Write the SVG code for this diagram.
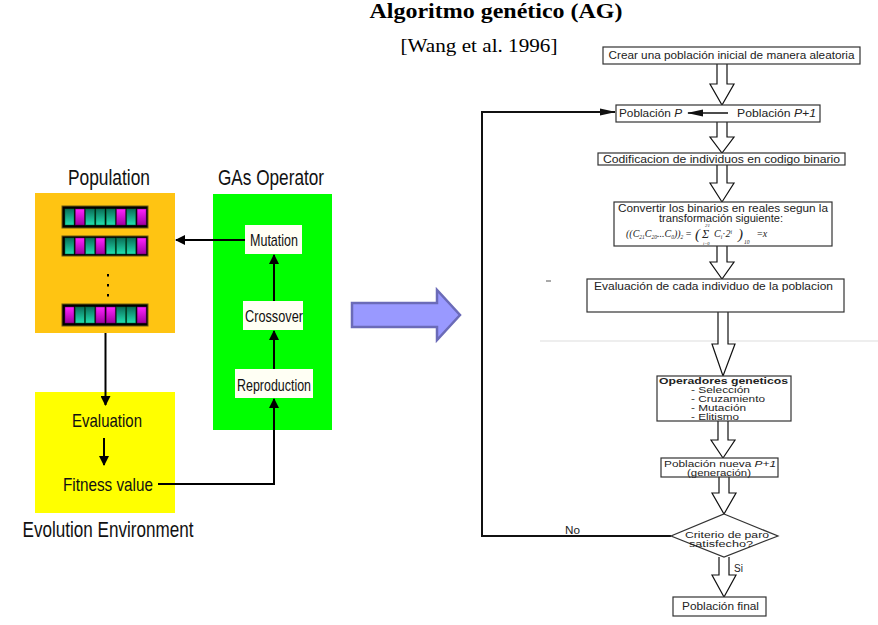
<svg xmlns="http://www.w3.org/2000/svg" width="878" height="625" viewBox="0 0 878 625">
<defs>
<marker id="ah" markerWidth="10" markerHeight="10" refX="9" refY="5" orient="auto" markerUnits="userSpaceOnUse">
<path d="M0,0 L10,5 L0,10 Z" fill="#000"/>
</marker>
<marker id="ah2" markerWidth="16" markerHeight="10" refX="15" refY="5" orient="auto" markerUnits="userSpaceOnUse">
<path d="M0,1.5 L16,5 L0,8.5 Z" fill="#111"/>
</marker>
<linearGradient id="gT" x1="0" y1="0" x2="0" y2="1">
<stop offset="0" stop-color="#0a6e58"/><stop offset="1" stop-color="#22e0b0"/>
</linearGradient>
<linearGradient id="gM" x1="0" y1="0" x2="0" y2="1">
<stop offset="0" stop-color="#ff22ff"/><stop offset="1" stop-color="#a000a0"/>
</linearGradient>
<style>
.nar{font-family:"Liberation Sans",Arial,sans-serif;fill:#111}
.fc{font-family:"Liberation Sans",Arial,sans-serif;fill:#222;font-size:10px}
.sm{font-family:"Liberation Sans",Arial,sans-serif;fill:#222;font-size:8.5px}
.fm{font-family:"Liberation Serif",serif;fill:#222;font-style:italic}
.box{fill:#fff;stroke:#333;stroke-width:1.2}
.op{fill:#fffff4;stroke:none}
.ln{stroke:#000;stroke-width:2;fill:none}
.hol{fill:#fff;stroke:#111;stroke-width:1.2}
.bar{fill:#000;stroke:#6a5a10;stroke-width:1}
.t{fill:url(#gT);stroke:#063;stroke-width:0.5}
.m{fill:url(#gM);stroke:#606;stroke-width:0.5}
</style>
</defs>
<rect width="878" height="625" fill="#fff"/>

<g id="title">
<text x="496" y="18" text-anchor="middle" font-family="Liberation Serif,serif" font-weight="bold" font-size="20" textLength="253" lengthAdjust="spacingAndGlyphs">Algoritmo genético (AG)</text>
<text x="479" y="52" text-anchor="middle" font-family="Liberation Serif,serif" font-size="18" textLength="157" lengthAdjust="spacingAndGlyphs">[Wang et al. 1996]</text>
</g>

<!-- Left diagram -->
<g id="population">
<rect x="35" y="193" width="140" height="140" fill="#ffc412"/>
<text class="nar" x="109" y="185" text-anchor="middle" font-size="22" textLength="82" lengthAdjust="spacingAndGlyphs">Population</text>
<rect class="bar" x="62" y="206" width="86" height="22"/>
<rect class="t" x="65" y="209" width="9" height="16"/><rect class="m" x="75.3" y="209" width="9" height="16"/><rect class="t" x="85.6" y="209" width="9" height="16"/><rect class="t" x="95.9" y="209" width="9" height="16"/><rect class="t" x="106.2" y="209" width="9" height="16"/><rect class="m" x="116.5" y="209" width="9" height="16"/><rect class="t" x="126.8" y="209" width="9" height="16"/><rect class="m" x="137.1" y="209" width="9" height="16"/>
<rect class="bar" x="62" y="236" width="86" height="20"/>
<rect class="t" x="65" y="238" width="9" height="16"/><rect class="m" x="75.3" y="238" width="9" height="16"/><rect class="t" x="85.6" y="238" width="9" height="16"/><rect class="m" x="95.9" y="238" width="9" height="16"/><rect class="t" x="106.2" y="238" width="9" height="16"/><rect class="t" x="116.5" y="238" width="9" height="16"/><rect class="t" x="126.8" y="238" width="9" height="16"/><rect class="m" x="137.1" y="238" width="9" height="16"/>
<rect x="107" y="274" width="2" height="2.5" fill="#000"/><rect x="107" y="284" width="2" height="2.5" fill="#000"/><rect x="107" y="294" width="2" height="2.5" fill="#000"/>
<rect class="bar" x="62" y="304" width="86" height="22"/>
<rect class="m" x="65" y="307" width="9" height="16"/><rect class="t" x="75.3" y="307" width="9" height="16"/><rect class="t" x="85.6" y="307" width="9" height="16"/><rect class="m" x="95.9" y="307" width="9" height="16"/><rect class="m" x="106.2" y="307" width="9" height="16"/><rect class="t" x="116.5" y="307" width="9" height="16"/><rect class="t" x="126.8" y="307" width="9" height="16"/><rect class="m" x="137.1" y="307" width="9" height="16"/>
</g>

<g id="gas-operator">
<rect x="213" y="194" width="119" height="236" fill="#00ff00"/>
<text class="nar" x="271" y="185" text-anchor="middle" font-size="22" textLength="106" lengthAdjust="spacingAndGlyphs">GAs Operator</text>
</g>
<g id="mutation">
<rect class="op" x="245" y="225" width="57" height="29"/>
<text class="nar" x="274" y="246" text-anchor="middle" font-size="17" textLength="48" lengthAdjust="spacingAndGlyphs">Mutation</text>
</g>
<g id="crossover">
<rect class="op" x="243" y="301" width="60" height="29"/>
<text class="nar" x="274" y="322" text-anchor="middle" font-size="17" textLength="58" lengthAdjust="spacingAndGlyphs">Crossover</text>
</g>
<g id="reproduction">
<rect class="op" x="235" y="369" width="78" height="29"/>
<text class="nar" x="274" y="391" text-anchor="middle" font-size="17" textLength="74" lengthAdjust="spacingAndGlyphs">Reproduction</text>
</g>

<g id="evolution-environment">
<rect x="35" y="392" width="140" height="121" fill="#ffff00"/>
<text class="nar" x="108" y="537" text-anchor="middle" font-size="22" textLength="171" lengthAdjust="spacingAndGlyphs">Evolution Environment</text>
</g>
<g id="evaluation">
<text class="nar" x="107" y="427" text-anchor="middle" font-size="19" textLength="70" lengthAdjust="spacingAndGlyphs">Evaluation</text>
</g>
<g id="fitness">
<text class="nar" x="108" y="491" text-anchor="middle" font-size="19" textLength="90" lengthAdjust="spacingAndGlyphs">Fitness value</text>
</g>

<g id="left-connectors">
<line class="ln" x1="245" y1="240" x2="176" y2="240" marker-end="url(#ah)"/>
<line class="ln" x1="274" y1="301" x2="274" y2="255" marker-end="url(#ah)"/>
<line class="ln" x1="274" y1="369" x2="274" y2="331" marker-end="url(#ah)"/>
<polyline class="ln" points="158,484 274,484 274,399" marker-end="url(#ah)"/>
<line class="ln" x1="105.5" y1="333" x2="105.5" y2="405" marker-end="url(#ah)"/>
<line class="ln" x1="104" y1="438" x2="104" y2="465" marker-end="url(#ah)"/>
</g>

<g id="big-arrow">
<path d="M352,303 H437 V290 L460,315 L437,340 V327 H352 Z" fill="#9999ff" stroke="#6b6bb8" stroke-width="2.5" stroke-linejoin="miter"/>
</g>

<!-- Right flowchart -->
<g id="faint">
<line x1="540" y1="341" x2="878" y2="341" stroke="#ddd" stroke-width="1"/>
<line x1="546" y1="281" x2="551" y2="281" stroke="#555" stroke-width="1"/>
</g>

<g id="right-connectors">
<path class="hol" d="M717,64 V84 H710 L722,105 L734,84 H727 V64"/>
<path class="hol" d="M717,122 V137 H710 L722,153 L734,137 H727 V122"/>
<path class="hol" d="M717,165 V183 H710 L722,202 L734,183 H727 V165"/>
<path class="hol" d="M717,246 V262 H710 L722,279 L734,262 H727 V246"/>
<path class="hol" d="M718,312 V344 H712 L723,376 L735,344 H728 V312"/>
<path class="hol" d="M718,421 V440 H711 L723,458 L735,440 H728 V421"/>
<path class="hol" d="M719,477 V493 H712 L724,514 L736,493 H729 V477"/>
<path class="hol" d="M719,557 V575 H712 L724,597 L736,575 H729 V557"/>
<polyline points="671,536 482,536 482,112 615,112" fill="none" stroke="#111" stroke-width="2" marker-end="url(#ah2)"/>
<text class="fc" x="565" y="534" textLength="15" lengthAdjust="spacingAndGlyphs">No</text>
<text class="fc" x="734" y="572">Si</text>
</g>

<g id="n-crear">
<rect class="box" x="603" y="47" width="257" height="17" stroke-width="1.6" stroke="#555"/>
<text class="fc" x="731.5" y="59" text-anchor="middle" textLength="246" lengthAdjust="spacingAndGlyphs">Crear una población inicial de manera aleatoria</text>
</g>
<g id="n-poblacion">
<rect class="box" x="616" y="105" width="204" height="17"/>
<text class="fc" x="619" y="117" textLength="63" lengthAdjust="spacingAndGlyphs">Población <tspan font-style="italic">P</tspan></text>
<line x1="728" y1="113" x2="688" y2="113" stroke="#111" stroke-width="1.5" marker-end="url(#ah2)"/>
<text class="fc" x="737" y="117" textLength="79" lengthAdjust="spacingAndGlyphs">Población <tspan font-style="italic">P+1</tspan></text>
</g>
<g id="n-codificacion">
<rect class="box" x="598" y="153" width="247" height="12"/>
<text class="fc" x="721.5" y="163" text-anchor="middle" textLength="237" lengthAdjust="spacingAndGlyphs">Codificacion de individuos en codigo binario</text>
</g>
<g id="n-convertir">
<rect class="box" x="614" y="202" width="218" height="44"/>
<text class="fc" x="723" y="212" text-anchor="middle" textLength="210" lengthAdjust="spacingAndGlyphs">Convertir los binarios en reales segun la</text>
<text class="fc" x="721" y="222" text-anchor="middle" textLength="124" lengthAdjust="spacingAndGlyphs">transformación siguiente:</text>
<text class="fm" x="626" y="237" font-size="10">((C<tspan font-size="5.5" dy="2">21</tspan><tspan dy="-2">C</tspan><tspan font-size="5.5" dy="2">20</tspan><tspan dy="-2">...C</tspan><tspan font-size="5.5" dy="2">0</tspan><tspan dy="-2">))</tspan><tspan font-size="5.5" dy="2">2</tspan><tspan dy="-2" font-style="normal"> =</tspan></text>
<text class="fm" x="695" y="239" font-size="15" font-style="normal">(</text>
<text class="fm" x="705" y="226.8" font-size="5" font-style="normal">21</text>
<text class="fm" x="702" y="238" font-size="12" font-style="normal">Σ</text>
<text class="fm" x="703" y="245.3" font-size="4.5">i=0</text>
<text class="fm" x="714" y="237" font-size="10">C<tspan font-size="5.5" dy="2">i</tspan><tspan dy="-2" font-style="normal">·</tspan>2<tspan font-size="5.5" dy="-3">i</tspan></text>
<text class="fm" x="738" y="239" font-size="15" font-style="normal">)</text>
<text class="fm" x="744" y="244" font-size="5.5" font-style="normal">10</text>
<text class="fm" x="757" y="237" font-size="10"><tspan font-style="normal">=</tspan>x</text>
</g>
<g id="n-evaluacion">
<rect class="box" x="587" y="279" width="257" height="33"/>
<text class="fc" x="594" y="290" textLength="239" lengthAdjust="spacingAndGlyphs">Evaluación de cada individuo de la poblacion</text>
</g>
<g id="n-operadores">
<rect class="box" x="657" y="376" width="134" height="45"/>
<text class="sm" x="659" y="384" font-weight="bold" textLength="129" lengthAdjust="spacingAndGlyphs">Operadores geneticos</text>
<text class="sm" x="691" y="393" textLength="59" lengthAdjust="spacingAndGlyphs">- Selección</text>
<text class="sm" x="691" y="402" textLength="74" lengthAdjust="spacingAndGlyphs">- Cruzamiento</text>
<text class="sm" x="691" y="411" textLength="55" lengthAdjust="spacingAndGlyphs">- Mutación</text>
<text class="sm" x="691" y="420" textLength="48" lengthAdjust="spacingAndGlyphs">- Elitismo</text>
</g>
<g id="n-nueva">
<rect class="box" x="661" y="458" width="117" height="19"/>
<text class="sm" x="664" y="467" textLength="112" lengthAdjust="spacingAndGlyphs">Población nueva <tspan font-style="italic">P+1</tspan></text>
<text class="sm" x="719" y="476" text-anchor="middle" textLength="64" lengthAdjust="spacingAndGlyphs">(generación)</text>
</g>
<g id="n-criterio">
<polygon class="box" points="724,514 778,536 724,557 671,536"/>
<text class="sm" x="727" y="538" text-anchor="middle" textLength="84" lengthAdjust="spacingAndGlyphs">Criterio de paro</text>
<text class="sm" x="721" y="547" text-anchor="middle" textLength="64" lengthAdjust="spacingAndGlyphs">satisfecho?</text>
</g>
<g id="n-final">
<rect class="box" x="673" y="597" width="93" height="19"/>
<text class="fc" x="720.5" y="610" text-anchor="middle" textLength="77" lengthAdjust="spacingAndGlyphs">Población final</text>
</g>
</svg>
